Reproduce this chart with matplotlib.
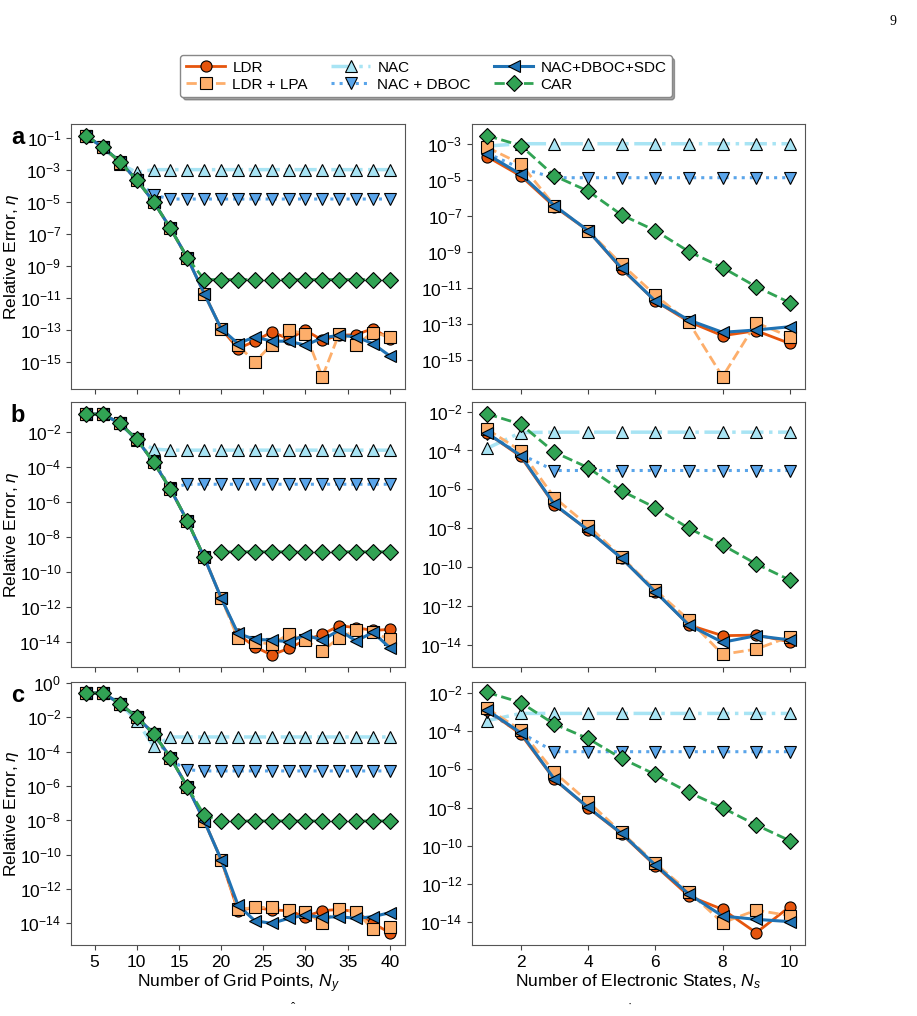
import numpy as np
import matplotlib
matplotlib.use("Agg")
import matplotlib.pyplot as plt
from matplotlib.ticker import FixedLocator, NullLocator, LogFormatterSciNotation

plt.rcParams['font.family'] = ['Liberation Sans', 'DejaVu Sans']
plt.rcParams['mathtext.fontset'] = 'custom'
plt.rcParams['mathtext.rm'] = 'Liberation Sans'
plt.rcParams['mathtext.it'] = 'Liberation Sans:italic'

# grid points (left column) and electronic states (right column)
n_grid = [4, 6, 8, 10, 12, 14, 16, 18, 20, 22, 24, 26, 28, 30, 32, 34, 36, 38, 40]
n_states = [1, 2, 3, 4, 5, 6, 7, 8, 9, 10]

# values below are log10 of the relative error
# --- panel a ---
a_grid_ldr = [-0.85, -1.56, -2.46, -3.61, -4.97, -6.64, -8.48, -10.72, -12.91, -14.16, -13.70, -13.12, -13.55, -13.01, -13.64, -13.33, -13.29, -12.91, -13.54]
a_grid_lpa = [-0.85, -1.56, -2.55, -3.61, -4.97, -6.64, -8.48, -10.72, -12.91, -13.95, -15.00, -13.91, -13.01, -13.22, -15.94, -13.22, -13.91, -13.16, -13.43]
a_grid_nac = [-0.85, -1.56, -2.60, -3.13, -2.96, -2.96, -2.96, -2.96, -2.96, -2.96, -2.96, -2.96, -2.96, -2.96, -2.96, -2.96, -2.96, -2.96, -2.96]
a_grid_dboc = [-0.85, -1.56, -2.46, -3.61, -4.55, -4.80, -4.80, -4.80, -4.80, -4.80, -4.80, -4.80, -4.80, -4.80, -4.80, -4.80, -4.80, -4.80, -4.80]
a_grid_sdc = [-0.85, -1.56, -2.46, -3.61, -4.97, -6.64, -8.48, -10.72, -12.91, -13.85, -13.43, -13.70, -13.70, -13.95, -13.49, -13.33, -13.43, -13.85, -14.62]
a_grid_car = [-0.85, -1.56, -2.46, -3.61, -4.97, -6.64, -8.48, -9.84, -9.84, -9.84, -9.84, -9.84, -9.84, -9.84, -9.84, -9.84, -9.84, -9.84, -9.84]

a_st_ldr = [-3.69, -4.76, -6.47, -7.80, -9.94, -11.72, -12.87, -13.65, -13.37, -14.08]
a_st_lpa = [-3.17, -4.09, -6.41, -7.80, -9.68, -11.39, -12.91, -15.93, -12.93, -13.70]
a_st_nac = [-3.10, -2.97, -2.97, -2.97, -2.97, -2.97, -2.97, -2.97, -2.97, -2.97]
a_st_dboc = [-3.50, -4.34, -4.86, -4.86, -4.86, -4.86, -4.86, -4.86, -4.86, -4.86]
a_st_sdc = [-3.56, -4.67, -6.41, -7.80, -9.90, -11.72, -12.78, -13.46, -13.33, -13.15]
a_st_car = [-2.52, -3.07, -4.76, -5.60, -6.93, -7.80, -8.97, -9.86, -10.92, -11.81]

# --- panel b ---
b_grid_ldr = [-1.01, -1.01, -1.54, -2.44, -3.75, -5.28, -7.09, -9.16, -11.46, -13.54, -14.25, -14.72, -14.34, -13.87, -13.54, -13.05, -13.16, -13.32, -13.26]
b_grid_lpa = [-1.01, -1.01, -1.54, -2.44, -3.75, -5.28, -7.09, -9.16, -11.46, -13.77, -13.96, -14.11, -13.54, -13.87, -14.49, -13.73, -13.32, -13.43, -13.83]
b_grid_nac = [-1.01, -1.01, -1.54, -2.50, -3.00, -3.06, -3.06, -3.06, -3.06, -3.06, -3.06, -3.06, -3.06, -3.06, -3.06, -3.06, -3.06, -3.06, -3.06]
b_grid_dboc = [-1.01, -1.01, -1.54, -2.44, -3.71, -5.20, -5.00, -5.00, -5.00, -5.00, -5.00, -5.00, -5.00, -5.00, -5.00, -5.00, -5.00, -5.00, -5.00]
b_grid_sdc = [-1.01, -1.01, -1.54, -2.44, -3.75, -5.28, -7.09, -9.16, -11.46, -13.49, -13.83, -13.87, -13.96, -13.58, -13.87, -13.30, -13.92, -13.43, -14.30]
b_grid_car = [-1.01, -1.01, -1.54, -2.44, -3.75, -5.28, -7.09, -9.16, -8.84, -8.84, -8.84, -8.84, -8.84, -8.84, -8.84, -8.84, -8.84, -8.84, -8.84]

b_st_ldr = [-3.11, -4.31, -6.80, -8.09, -9.54, -11.26, -12.97, -13.52, -13.49, -13.83]
b_st_lpa = [-2.91, -4.02, -6.42, -7.86, -9.49, -11.17, -12.71, -14.48, -14.21, -13.57]
b_st_nac = [-3.89, -3.08, -3.06, -3.06, -3.06, -3.06, -3.06, -3.06, -3.06, -3.06]
b_st_dboc = [-3.15, -4.20, -5.03, -5.03, -5.03, -5.03, -5.03, -5.03, -5.03, -5.03]
b_st_sdc = [-3.11, -4.26, -6.77, -8.09, -9.54, -11.26, -12.97, -13.86, -13.52, -13.74]
b_st_car = [-2.12, -2.65, -4.09, -4.88, -6.08, -6.94, -8.00, -8.86, -9.83, -10.66]

# --- panel c ---
c_grid_ldr = [-0.58, -0.58, -1.20, -1.98, -2.95, -4.34, -6.05, -8.03, -10.28, -13.26, -13.07, -13.22, -13.26, -13.61, -13.26, -13.19, -13.32, -14.00, -14.54]
c_grid_lpa = [-0.58, -0.58, -1.20, -1.98, -2.95, -4.34, -6.05, -8.03, -10.28, -13.19, -13.07, -13.07, -13.22, -13.32, -14.00, -13.19, -13.32, -14.35, -14.19]
c_grid_nac = [-0.58, -0.58, -1.20, -2.20, -3.68, -3.14, -3.14, -3.14, -3.14, -3.14, -3.14, -3.14, -3.14, -3.14, -3.14, -3.14, -3.14, -3.14, -3.14]
c_grid_dboc = [-0.58, -0.58, -1.20, -1.98, -2.95, -4.50, -5.05, -5.12, -5.12, -5.12, -5.12, -5.12, -5.12, -5.12, -5.12, -5.12, -5.12, -5.12, -5.12]
c_grid_sdc = [-0.58, -0.58, -1.20, -1.98, -2.95, -4.34, -6.05, -8.03, -10.28, -12.93, -13.85, -14.00, -13.71, -13.52, -13.65, -13.61, -13.71, -13.61, -13.38]
c_grid_car = [-0.58, -0.58, -1.20, -1.98, -2.95, -4.34, -6.05, -7.70, -8.03, -8.03, -8.03, -8.03, -8.03, -8.03, -8.03, -8.03, -8.03, -8.03, -8.03]

c_st_ldr = [-2.91, -4.16, -6.53, -8.01, -9.38, -11.04, -12.62, -13.32, -14.54, -13.18]
c_st_lpa = [-2.82, -3.95, -6.16, -7.69, -9.30, -10.92, -12.40, -14.02, -13.36, -13.65]
c_st_nac = [-3.46, -3.08, -3.08, -3.08, -3.08, -3.08, -3.08, -3.08, -3.08, -3.08]
c_st_dboc = [-3.00, -4.09, -5.08, -5.08, -5.08, -5.08, -5.08, -5.08, -5.08, -5.08]
c_st_sdc = [-2.91, -4.09, -6.51, -7.99, -9.35, -11.00, -12.52, -13.67, -13.84, -13.96]
c_st_car = [-1.98, -2.51, -3.64, -4.39, -5.43, -6.27, -7.21, -8.01, -8.91, -9.73]

labels = ['LDR', 'LDR + LPA', 'NAC', 'NAC + DBOC', 'NAC+DBOC+SDC', 'CAR']
styles = [
    dict(color='#e6550d', ls='-', marker='o', lw=2.0, mfc='#e6550d', zorder=3),
    dict(color='#fdae6b', ls='--', marker='s', lw=2.0, mfc='#fdae6b', zorder=3),
    dict(color='#a8e4f4', ls='-.', marker='^', lw=2.5, mfc='#a8e4f4', zorder=2),
    dict(color='#5aa5ea', ls=':', marker='v', lw=2.2, mfc='#5aa5ea', zorder=2),
    dict(color='#1f72b4', ls='-', marker='<', lw=2.2, mfc='#1f72b4', zorder=4),
    dict(color='#31a354', ls='--', marker='D', lw=2.0, mfc='#31a354', zorder=5),
]

panels = [
    ([a_grid_ldr, a_grid_lpa, a_grid_nac, a_grid_dboc, a_grid_sdc, a_grid_car],
     [a_st_ldr, a_st_lpa, a_st_nac, a_st_dboc, a_st_sdc, a_st_car]),
    ([b_grid_ldr, b_grid_lpa, b_grid_nac, b_grid_dboc, b_grid_sdc, b_grid_car],
     [b_st_ldr, b_st_lpa, b_st_nac, b_st_dboc, b_st_sdc, b_st_car]),
    ([c_grid_ldr, c_grid_lpa, c_grid_nac, c_grid_dboc, c_grid_sdc, c_grid_car],
     [c_st_ldr, c_st_lpa, c_st_nac, c_st_dboc, c_st_sdc, c_st_car]),
]
panel_tags = ['a', 'b', 'c']

# y limits (log10) and labelled tick exponents for each axis
ylims = [[(-16.7, -0.1), (-16.62, -1.87)],
         [(-15.4, -0.31), (-15.13, -1.5)],
         [(-15.26, 0.06), (-15.18, -1.44)]]
yticks = [[range(-1, -16, -2), range(-3, -16, -2)],
          [range(-2, -15, -2), range(-2, -15, -2)],
          [range(0, -15, -2), range(-2, -15, -2)]]

fig = plt.figure(figsize=(9.17, 10.16), dpi=100)
rows = [(0.617, 0.261), (0.3435, 0.261), (0.0699, 0.2588)]
cols = [(0.0774, 0.3642), (0.5147, 0.3631)]

handles = []
for r, (grid_sets, st_sets) in enumerate(panels):
    for c in range(2):
        ax = fig.add_axes([cols[c][0], rows[r][0], cols[c][1], rows[r][1]])
        xs = n_grid if c == 0 else n_states
        sets = grid_sets if c == 0 else st_sets
        for vals, st, lab in zip(sets, styles, labels):
            ln, = ax.semilogy(xs, 10.0 ** np.array(vals), label=lab, ms=8,
                              mec='black', mew=0.8, **st)
            if r == 0 and c == 0:
                handles.append(ln)
        lo, hi = ylims[r][c]
        ax.set_ylim(10.0 ** lo, 10.0 ** hi)
        ax.yaxis.set_major_locator(FixedLocator([10.0 ** e for e in yticks[r][c]]))
        ax.yaxis.set_major_formatter(LogFormatterSciNotation())
        ax.yaxis.set_minor_locator(NullLocator())
        if c == 0:
            ax.set_xticks([5, 10, 15, 20, 25, 30, 35, 40])
            ax.set_ylabel(r'Relative Error, $\eta$', fontsize=12.5)
            ax.yaxis.set_label_coords(-0.15, 0.5)
            ax.text(-0.16, 0.95, panel_tags[r], transform=ax.transAxes,
                    fontsize=17, fontweight='bold', ha='center', va='center')
        else:
            ax.set_xticks([2, 4, 6, 8, 10])
        ax.tick_params(labelsize=12.5, color='#444444')
        for sp in ax.spines.values():
            sp.set_color('#555555')
        if r < 2:
            ax.set_xticklabels([])
        else:
            if c == 0:
                ax.set_xlabel(r'Number of Grid Points, $N_y$', fontsize=12.5, labelpad=2)
            else:
                ax.set_xlabel(r'Number of Electronic States, $N_s$', fontsize=12.5, labelpad=2)

fig.legend(handles=handles, loc='center', bbox_to_anchor=(0.4646, 0.925), ncol=3,
           fontsize=11, handlelength=2.6, handletextpad=0.45, columnspacing=1.5,
           borderpad=0.35, borderaxespad=0.2, labelspacing=0.2, fancybox=True,
           shadow=True, framealpha=1, edgecolor='#888888')

fig.text(0.978, 0.985, '9', fontsize=10, family='Liberation Serif', ha='right', va='top')
fig.text(0.32, 0.002, '\u02c6', fontsize=9, family='Liberation Serif', ha='center', va='bottom')
fig.text(0.687, 0.002, '\u02d9', fontsize=9, family='Liberation Serif', ha='center', va='bottom')

fig.savefig('out.png', dpi=100)
